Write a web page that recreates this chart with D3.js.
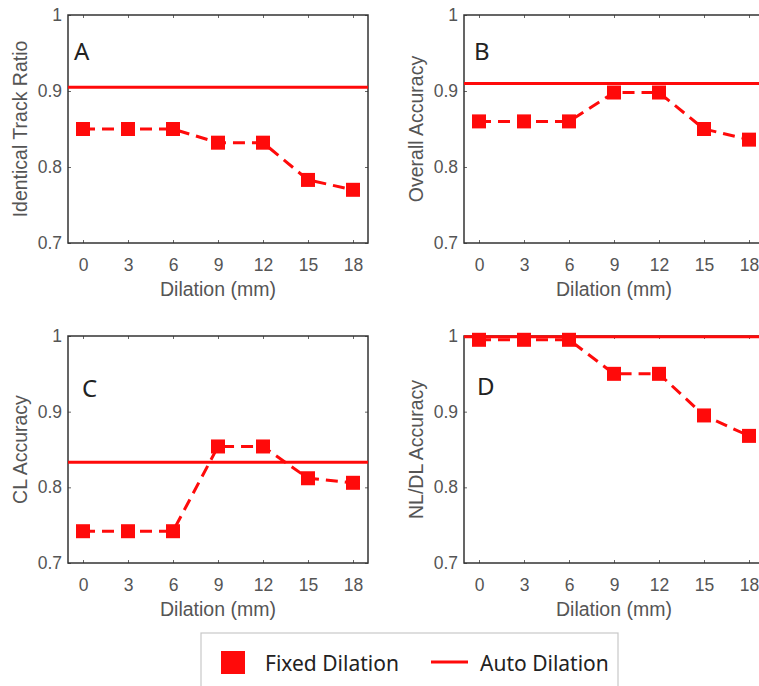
<!DOCTYPE html>
<html>
<head>
<meta charset="utf-8">
<script src="https://cdn.jsdelivr.net/npm/d3@7"></script>
<style>
  body { margin: 0; background: #fff; }
  svg { display: block; }
  .tick text { font-family: "Liberation Sans", Arial, sans-serif; fill: #555; }
</style>
</head>
<body>
<div id="chart"></div>
<script>
// dilation steps (mm)
const dilation = [0, 3, 6, 9, 12, 15, 18];
const yTicks = [0.7, 0.8, 0.9, 1];

// fixed dilation results per panel
const fixedA = [0.850, 0.850, 0.850, 0.832, 0.832, 0.783, 0.770];
const fixedB = [0.860, 0.860, 0.860, 0.898, 0.898, 0.850, 0.836];
const fixedC = [0.742, 0.742, 0.742, 0.854, 0.854, 0.812, 0.806];
const fixedD = [0.995, 0.995, 0.995, 0.950, 0.950, 0.895, 0.868];

// auto dilation results (single value)
const autoA = 0.905;
const autoB = 0.910;
const autoC = 0.833;
const autoD = 0.999;

const panelLetters = ["A", "B", "C", "D"];
const yLabels = ["Identical Track Ratio", "Overall Accuracy", "CL Accuracy", "NL/DL Accuracy"];
const xLabel = "Dilation (mm)";
const legendLabels = ["Fixed Dilation", "Auto Dilation"];

const W = 759, H = 686;
const red = "#ff0a0a";

const svg = d3.select("#chart").append("svg")
  .attr("width", W)
  .attr("height", H);

const panels = [
  {fixed: fixedA, auto: autoA, left: 68, top: 15, bottom: 243, lx: 74, ly: 60},
  {fixed: fixedB, auto: autoB, left: 464, top: 15, bottom: 243, lx: 474, ly: 60},
  {fixed: fixedC, auto: autoC, left: 68, top: 336, bottom: 563, lx: 82, ly: 397},
  {fixed: fixedD, auto: autoD, left: 464, top: 336, bottom: 563, lx: 477, ly: 395}
];

panels.forEach((p, i) => {
  const width = 300;
  const x = d3.scaleLinear().domain([-1, 19]).range([p.left, p.left + width]);
  const y = d3.scaleLinear().domain([0.7, 1]).range([p.bottom, p.top]);

  const g = svg.append("g");

  // x axis (bottom) with labels, ticks pointing inward
  g.append("g")
    .attr("transform", `translate(0, ${p.bottom})`)
    .call(d3.axisBottom(x).tickValues(dilation).tickSize(-3).tickPadding(16).tickFormat(d3.format("d")))
    .call(a => a.select(".domain").remove())
    .call(a => a.selectAll("line").attr("stroke", "#666"))
    .call(a => a.selectAll("text").attr("font-size", 17.5));

  // top ticks
  g.append("g")
    .attr("transform", `translate(0, ${p.top})`)
    .call(d3.axisTop(x).tickValues(dilation).tickSize(-3).tickFormat(""))
    .call(a => a.select(".domain").remove())
    .call(a => a.selectAll("line").attr("stroke", "#666"));

  // y axis
  g.append("g")
    .attr("transform", `translate(${p.left}, 0)`)
    .call(d3.axisLeft(y).tickValues(yTicks).tickSize(-3).tickPadding(6).tickFormat(d => d === 1 ? "1" : d3.format(".1f")(d)))
    .call(a => a.select(".domain").remove())
    .call(a => a.selectAll("line").attr("stroke", "#666"))
    .call(a => a.selectAll("text").attr("font-size", 17.5));

  g.append("g")
    .attr("transform", `translate(${p.left + width}, 0)`)
    .call(d3.axisRight(y).tickValues(yTicks).tickSize(-3).tickFormat(""))
    .call(a => a.select(".domain").remove())
    .call(a => a.selectAll("line").attr("stroke", "#666"));

  // frame
  g.append("rect")
    .attr("x", p.left)
    .attr("y", p.top)
    .attr("width", width)
    .attr("height", p.bottom - p.top)
    .attr("fill", "none")
    .attr("stroke", "#333")
    .attr("stroke-width", 1.5);

  // x label
  g.append("text")
    .attr("x", x(9))
    .attr("y", p.bottom + 53)
    .attr("text-anchor", "middle")
    .attr("font-family", "Liberation Sans, Arial, sans-serif")
    .attr("font-size", 19.5)
    .attr("fill", "#555")
    .text(xLabel);

  // y label
  g.append("text")
    .attr("transform", `translate(${p.left - 41}, ${(p.top + p.bottom) / 2}) rotate(-90)`)
    .attr("text-anchor", "middle")
    .attr("font-family", "Liberation Sans, Arial, sans-serif")
    .attr("font-size", 19.5)
    .attr("fill", "#555")
    .text(yLabels[i]);

  // panel letter
  g.append("text")
    .attr("x", p.lx)
    .attr("y", p.ly)
    .attr("font-family", "Noto Sans, DejaVu Sans, sans-serif")
    .attr("font-size", 24)
    .attr("fill", "#222")
    .text(panelLetters[i]);

  // auto dilation line
  g.append("line")
    .attr("x1", p.left)
    .attr("x2", p.left + width)
    .attr("y1", y(p.auto))
    .attr("y2", y(p.auto))
    .attr("stroke", red)
    .attr("stroke-width", 3);

  // fixed dilation dashed line
  const line = d3.line()
    .x((d, j) => x(dilation[j]))
    .y(d => y(d));

  g.append("path")
    .datum(p.fixed)
    .attr("d", line)
    .attr("fill", "none")
    .attr("stroke", red)
    .attr("stroke-width", 3)
    .attr("stroke-dasharray", "12,7");

  const s = 14;
  g.selectAll(".mk")
    .data(p.fixed)
    .enter()
    .append("rect")
    .attr("x", (d, j) => x(dilation[j]) - s / 2)
    .attr("y", d => y(d) - s / 2)
    .attr("width", s)
    .attr("height", s)
    .attr("fill", red);
});

// legend
const lg = svg.append("g");
lg.append("rect")
  .attr("x", 201)
  .attr("y", 633)
  .attr("width", 417)
  .attr("height", 60)
  .attr("fill", "#fff")
  .attr("stroke", "#c8c8c8")
  .attr("stroke-width", 1.2);

lg.append("rect")
  .attr("x", 221)
  .attr("y", 651)
  .attr("width", 24)
  .attr("height", 23)
  .attr("fill", red);

lg.append("text")
  .attr("x", 265)
  .attr("y", 671)
  .attr("font-family", "Noto Sans, DejaVu Sans, sans-serif")
  .attr("font-size", 21)
  .attr("fill", "#222")
  .text(legendLabels[0]);

lg.append("line")
  .attr("x1", 431)
  .attr("x2", 468)
  .attr("y1", 662)
  .attr("y2", 662)
  .attr("stroke", red)
  .attr("stroke-width", 3);

lg.append("text")
  .attr("x", 480)
  .attr("y", 671)
  .attr("font-family", "Noto Sans, DejaVu Sans, sans-serif")
  .attr("font-size", 21)
  .attr("fill", "#222")
  .text(legendLabels[1]);
</script>
</body>
</html>
